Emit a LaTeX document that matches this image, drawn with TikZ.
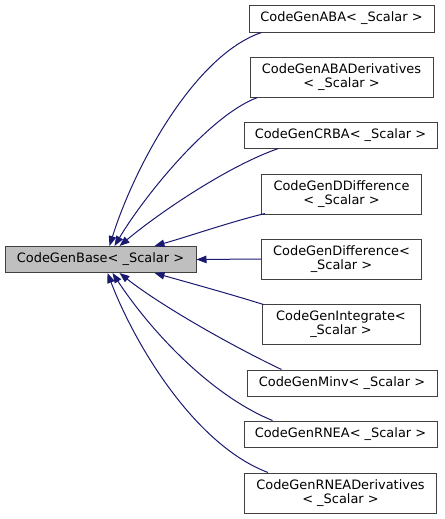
\documentclass[tikz,border=0pt]{standalone}
\usepackage{fontspec}
\setmainfont{DejaVu Sans}
\usetikzlibrary{arrows.meta,calc}
\definecolor{edgeblue}{HTML}{191970}
\definecolor{basefill}{HTML}{BFBFBF}
\definecolor{boxline}{HTML}{404040}
\begin{document}
\begin{tikzpicture}[x=0.75pt,y=-0.75pt,
  cls/.style={draw=boxline,line width=0.75pt,fill=white,inner xsep=0pt,inner ysep=0pt,
    align=center,font=\fontsize{9.7}{10.5}\selectfont},
  one/.style={cls,minimum height=19.5pt},
  two/.style={cls,minimum height=30pt},
  edge/.style={draw=edgeblue,line width=0.75pt,-{Triangle[length=7.5pt,width=5.6pt]}}]
\useasboundingbox (0,0) rectangle (444,519);
\node[one,fill=basefill,minimum width=143.25pt] (base) at (100.5,259.5) {CodeGenBase< \_Scalar >};
\node[one,minimum width=138.75pt,minimum height=20.25pt] (aba) at (341.5,18.5) {CodeGenABA< \_Scalar >};
\node[two,minimum width=137.25pt] (abad) at (341.5,77) {CodeGenABADerivatives\\< \_Scalar >};
\node[one,minimum width=144.75pt] (crba) at (340.5,135) {CodeGenCRBA< \_Scalar >};
\node[two,minimum width=120pt] (ddiff) at (341.5,194) {CodeGenDDifference\\< \_Scalar >};
\node[two,minimum width=120pt] (diff) at (341.5,259) {CodeGenDifference<\\\_Scalar >};
\node[two,minimum width=118.5pt] (integ) at (341,324) {CodeGenIntegrate<\\\_Scalar >};
\node[one,minimum width=142.5pt] (minv) at (342,383) {CodeGenMinv< \_Scalar >};
\node[one,minimum width=144.75pt] (rnea) at (340.5,434) {CodeGenRNEA< \_Scalar >};
\node[two,minimum width=144pt] (rnead) at (340.5,493) {CodeGenRNEADerivatives\\< \_Scalar >};
% edges
\draw[edge] ($(aba.south west)+(13,0)$) .. controls (195,55) and (135,165) .. ($(base.north west)+(105,0)$);
\draw[edge] ($(abad.south west)+(8,0)$) .. controls (210,115) and (145,195) .. ($(base.north west)+(110,0)$);
\draw[edge] ($(crba.south west)+(35,0)$) .. controls (230,165) and (160,212) .. ($(base.north west)+(115,0)$);
\draw[edge] ($(ddiff.south west)+(4,-1)$) .. controls (230,222) and (190,236) .. ($(base.north west)+(150,0)$);
\draw[edge] (diff.west) -- (base.east);
\draw[edge] ($(integ.north west)+(2,1)$) .. controls (230,294) and (190,283) .. ($(base.south west)+(150,0)$);
\draw[edge] ($(minv.north west)+(35,0)$) .. controls (230,345) and (160,305) .. ($(base.south west)+(115,0)$);
\draw[edge] ($(rnea.north west)+(29,0)$) .. controls (210,395) and (150,330) .. ($(base.south west)+(108,0)$);
\draw[edge] ($(rnead.north west)+(24,0)$) .. controls (195,445) and (135,345) .. ($(base.south west)+(103,0)$);
\end{tikzpicture}
\end{document}
